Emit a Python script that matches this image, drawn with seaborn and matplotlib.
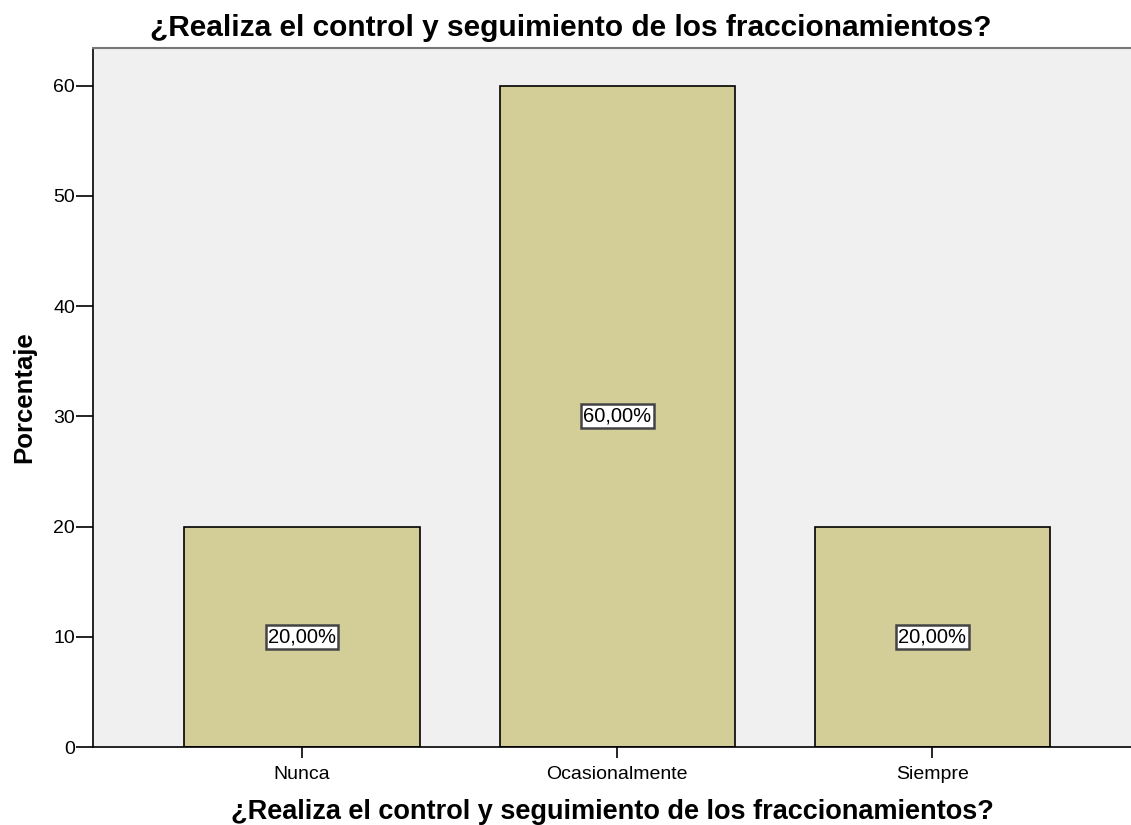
import matplotlib
matplotlib.use("Agg")
import matplotlib.pyplot as plt
import seaborn as sns
import pandas as pd

# Data
categories = ["Nunca", "Ocasionalmente", "Siempre"]
percentages = [20.0, 60.0, 20.0]
labels = ["20,00%", "60,00%", "20,00%"]
question = "¿Realiza el control y seguimiento de los fraccionamientos?"

df = pd.DataFrame({"Respuesta": categories, "Porcentaje": percentages})

sns.set_style("white")
plt.rcParams["font.family"] = ["Liberation Sans", "DejaVu Sans"]
plt.rcParams["text.color"] = "black"
plt.rcParams["xtick.color"] = "black"
plt.rcParams["ytick.color"] = "black"
plt.rcParams["axes.labelcolor"] = "black"

fig = plt.figure(figsize=(11.31, 8.25), dpi=100)
ax = fig.add_axes([0.0822, 0.0945, 0.9178, 0.8473])
ax.set_facecolor("#F0F0F0")

sns.barplot(data=df, x="Respuesta", y="Porcentaje", color="#D3CE97",
            edgecolor="black", linewidth=1.2, width=0.746, saturation=1,
            ax=ax)

for p, lab in zip(ax.patches, labels):
    ax.text(p.get_x() + p.get_width() / 2, p.get_height() / 2, lab,
            ha="center", va="center", fontsize=14.5,
            bbox=dict(boxstyle="square,pad=0.12", facecolor="white",
                      edgecolor="#444444", linewidth=1.8))

ax.set_xlim(-0.663, 2.63)
ax.set_ylim(0, 63.4)
ax.set_yticks([0, 10, 20, 30, 40, 50, 60])
ax.tick_params(axis="y", direction="out", length=12, width=1.2,
               labelsize=14, left=True, pad=1)
ax.tick_params(axis="x", direction="out", length=8, width=1.2,
               labelsize=14, bottom=True, pad=6)

for s in ["left", "bottom"]:
    ax.spines[s].set_color("black")
    ax.spines[s].set_linewidth(1.2)
ax.spines["top"].set_color("#777777")
ax.spines["top"].set_linewidth(1.5)
ax.spines["right"].set_visible(False)

ax.set_ylabel("Porcentaje", fontsize=18.5, fontweight="bold", labelpad=12)
ax.set_xlabel(question, fontsize=19.5, fontweight="bold", labelpad=11)
fig.text(0.505, 0.966, question, ha="center", va="center",
         fontsize=21.5, fontweight="bold")

fig.savefig("out.png", dpi=100)
